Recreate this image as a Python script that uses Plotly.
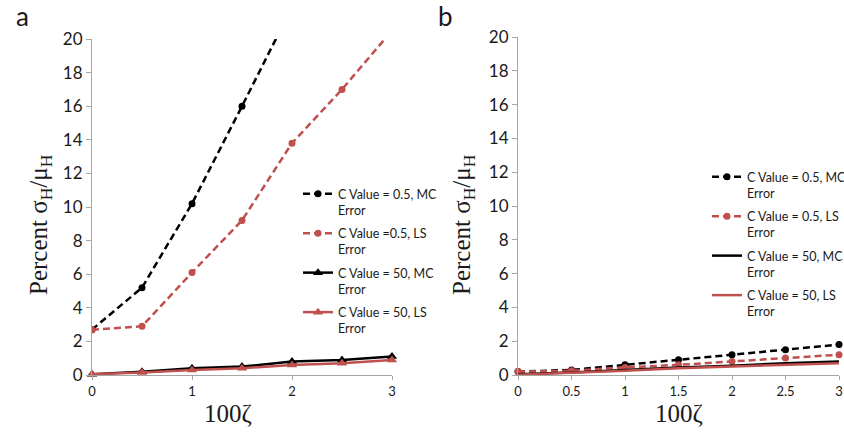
import plotly.graph_objects as go

zeta = [0, 0.5, 1, 1.5, 2, 2.5, 3]

# Panel a
a_x_mc05 = [0, 0.5, 1, 1.5, 2]
a_mc05 = [2.7, 5.2, 10.2, 16.0, 21.9]
a_ls05 = [2.7, 2.9, 6.1, 9.2, 13.8, 17.0, 20.5]
a_mc50 = [0.05, 0.2, 0.4, 0.5, 0.8, 0.9, 1.1]
a_ls50 = [0.05, 0.15, 0.3, 0.4, 0.6, 0.7, 0.9]

# Panel b
b_mc05 = [0.2, 0.3, 0.6, 0.9, 1.2, 1.5, 1.8]
b_ls05 = [0.2, 0.25, 0.45, 0.6, 0.8, 1.0, 1.2]
b_mc50 = [0.05, 0.15, 0.3, 0.45, 0.55, 0.7, 0.8]
b_ls50 = [0.02, 0.12, 0.25, 0.4, 0.5, 0.6, 0.7]

names_a = ["C Value = 0.5, MC<br>Error", "C Value =0.5, LS<br>Error",
           "C Value = 50, MC<br>Error", "C Value = 50, LS<br>Error"]
names_b = ["C Value = 0.5, MC<br>Error", "C Value = 0.5, LS<br>Error",
           "C Value = 50, MC<br>Error", "C Value = 50, LS<br>Error"]

BLACK = "#000000"
RED = "#C0504D"
DASH = "7px,4px"

fig = go.Figure()

# Panel a traces
fig.add_trace(go.Scatter(x=a_x_mc05, y=a_mc05, name=names_a[0], legendgroup="a1",
                         mode="lines+markers", line=dict(color=BLACK, width=2.5, dash=DASH),
                         marker=dict(symbol="circle", size=7, color=BLACK),
                         xaxis="x", yaxis="y", legend="legend"))
fig.add_trace(go.Scatter(x=zeta, y=a_ls05, name=names_a[1], legendgroup="a2",
                         mode="lines+markers", line=dict(color=RED, width=2.5, dash=DASH),
                         marker=dict(symbol="circle", size=7, color=RED),
                         xaxis="x", yaxis="y", legend="legend"))
fig.add_trace(go.Scatter(x=zeta, y=a_mc50, name=names_a[2], legendgroup="a3",
                         mode="lines+markers", line=dict(color=BLACK, width=2.5),
                         marker=dict(symbol="triangle-up", size=9, color=BLACK),
                         cliponaxis=False, xaxis="x", yaxis="y", legend="legend"))
fig.add_trace(go.Scatter(x=zeta, y=a_ls50, name=names_a[3], legendgroup="a4",
                         mode="lines+markers", line=dict(color=RED, width=2.5),
                         marker=dict(symbol="triangle-up", size=9, color=RED),
                         cliponaxis=False, xaxis="x", yaxis="y", legend="legend"))

# Panel b traces
fig.add_trace(go.Scatter(x=zeta, y=b_mc05, name=names_b[0], legendgroup="b1",
                         mode="lines+markers", line=dict(color=BLACK, width=2.5, dash=DASH),
                         marker=dict(symbol="circle", size=7, color=BLACK),
                         cliponaxis=False, xaxis="x2", yaxis="y2", legend="legend2"))
fig.add_trace(go.Scatter(x=zeta, y=b_ls05, name=names_b[1], legendgroup="b2",
                         mode="lines+markers", line=dict(color=RED, width=2.5, dash=DASH),
                         marker=dict(symbol="circle", size=7, color=RED),
                         cliponaxis=False, xaxis="x2", yaxis="y2", legend="legend2"))
fig.add_trace(go.Scatter(x=zeta, y=b_mc50, name=names_b[2], legendgroup="b3",
                         mode="lines", line=dict(color=BLACK, width=2.5),
                         cliponaxis=False, xaxis="x2", yaxis="y2", legend="legend2"))
fig.add_trace(go.Scatter(x=zeta, y=b_ls50, name=names_b[3], legendgroup="b4",
                         mode="lines", line=dict(color=RED, width=2.5),
                         cliponaxis=False, xaxis="x2", yaxis="y2", legend="legend2"))

W, H = 844, 433
AX = "#A6A6A6"
TICKFONT_Y = dict(family="Lato, Open Sans, sans-serif", size=17, color="#1a1a1a")
TICKFONT_X = dict(family="Lato, Open Sans, sans-serif", size=13, color="#1a1a1a")

common_x = dict(showgrid=False, zeroline=False, showline=True, linecolor=AX, linewidth=1,
                ticks="outside", tickcolor=AX, ticklen=4, tickfont=TICKFONT_X,
                automargin=False)
common_y = dict(showgrid=False, zeroline=False, showline=True, linecolor=AX, linewidth=1,
                ticks="outside", tickcolor=AX, ticklen=5, tickfont=TICKFONT_Y,
                range=[0, 20], dtick=2, automargin=False)

legend_font = dict(family="Lato, Open Sans, sans-serif", size=12.5, color="#1a1a1a")

fig.update_layout(
    template="none",
    width=W, height=H,
    margin=dict(l=0, r=0, t=0, b=0, autoexpand=False),
    paper_bgcolor="white", plot_bgcolor="white",
    xaxis=dict(common_x, domain=[92 / W, 392 / W], range=[0, 3], dtick=1, anchor="y"),
    yaxis=dict(common_y, domain=[58 / H, 394 / H], anchor="x"),
    xaxis2=dict(common_x, domain=[518 / W, 839 / W], range=[0, 3], dtick=0.5, anchor="y2"),
    yaxis2=dict(common_y, domain=[58 / H, 396 / H], anchor="x2"),
    legend=dict(x=298 / W, y=1 - 179 / H, xanchor="left", yanchor="top",
                bgcolor="rgba(0,0,0,0)", font=legend_font, tracegroupgap=4,
                valign="top", itemwidth=30, borderwidth=0),
    legend2=dict(x=707 / W, y=1 - 162 / H, xanchor="left", yanchor="top",
                 bgcolor="rgba(0,0,0,0)", font=legend_font, tracegroupgap=4,
                 valign="top", itemwidth=30, borderwidth=0),
    showlegend=True,
)

ytitle = "Percent σ<sub>H</sub>/μ<sub>H</sub>"
serif = dict(family="Liberation Serif, DejaVu Serif, serif", size=25, color="#1a1a1a")
annos = [
    dict(text="a", x=14 / W, y=1 - 16 / H, xanchor="left", yanchor="middle",
         font=dict(family="Lato, Open Sans, sans-serif", size=26, color="#1a1a1a")),
    dict(text="b", x=436 / W, y=1 - 16 / H, xanchor="left", yanchor="middle",
         font=dict(family="Lato, Open Sans, sans-serif", size=26, color="#1a1a1a")),
    dict(text=ytitle, x=40 / W, y=1 - 225 / H, textangle=-90, xanchor="center", yanchor="middle",
         font=serif),
    dict(text=ytitle, x=463 / W, y=1 - 225 / H, textangle=-90, xanchor="center", yanchor="middle",
         font=serif),
    dict(text="100ζ", x=228 / W, y=1 - 413 / H, xanchor="center", yanchor="middle", font=serif),
    dict(text="100ζ", x=679 / W, y=1 - 413 / H, xanchor="center", yanchor="middle", font=serif),
]
for a in annos:
    a.update(xref="paper", yref="paper", showarrow=False)
fig.update_layout(annotations=annos)

fig.write_html("out.html")
